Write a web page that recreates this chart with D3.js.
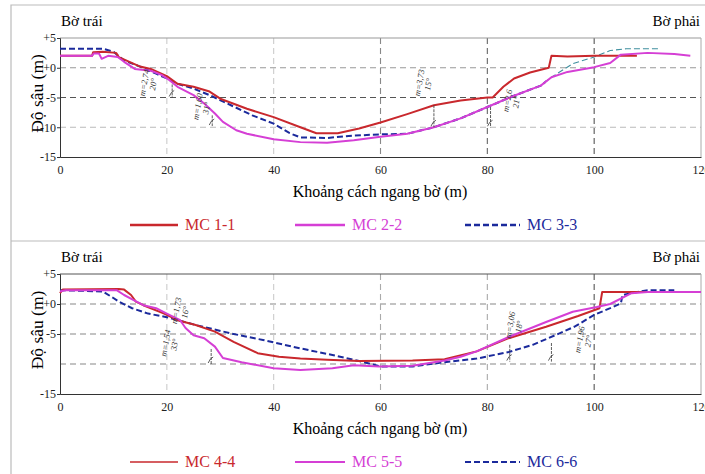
<!DOCTYPE html>
<html>
<head>
<meta charset="utf-8">
<script src="https://cdn.jsdelivr.net/npm/d3@7"></script>
<style>
  body { margin: 0; background: #fff; }
  svg text { font-family: "Liberation Serif", "Times New Roman", Times, "DejaVu Serif", serif; }
</style>
</head>
<body>
<svg id="chart"></svg>
<script>
// x: khoảng cách ngang bờ (m), y: độ sâu (m)
const mc11 = [[0,2.0],[6,2.0],[6.2,2.6],[8,2.7],[10.5,2.5],[11,1.8],[13,1.0],[15,0.2],[17,-0.2],[20,-1.4],[22,-2.7],[25,-3.2],[28,-4.0],[30,-5.2],[35,-6.9],[40,-8.3],[45,-10.0],[48,-11.0],[52,-11.0],[56,-10.2],[60,-9.2],[65,-7.8],[70,-6.3],[75,-5.5],[80,-5.0],[81,-5.0],[83,-3.2],[85,-1.8],[88,-0.8],[91.5,0.0],[92,2.0],[95,1.9],[100,2.0],[108,2.0]];
const mc22 = [[0,2.0],[6,2.0],[6.3,2.4],[7.3,2.4],[7.8,1.5],[9,2.0],[10.8,1.8],[12,1.0],[14,-0.2],[17,-0.5],[19,-1.2],[20.5,-2.1],[22,-3.2],[25,-4.6],[27,-6.0],[29,-7.7],[30.5,-9.1],[33,-10.5],[35,-11.1],[40,-12.0],[45,-12.5],[50,-12.6],[55,-12.2],[60,-11.6],[65,-11.1],[70,-10.0],[75,-8.5],[80,-6.6],[85,-4.7],[90,-3.0],[92,-1.6],[95,-0.7],[100,0.1],[103,0.8],[105,2.2],[110,2.5],[115,2.3],[118,2.0]];
const mc33 = [[0,3.2],[8,3.2],[10,2.7],[12,1.2],[15,0.2],[18,-1.0],[20,-1.8],[22,-2.7],[25,-3.5],[28,-4.6],[32,-6.3],[36,-8.0],[40,-9.4],[43,-11.0],[45,-11.7],[50,-11.8],[55,-11.4],[60,-11.2],[65,-11.1],[70,-10.0],[75,-8.5],[80,-6.6],[85,-4.7],[90,-3.0],[92,-1.6],[96,0.7],[100,1.8],[103,2.9],[106,3.2],[112,3.2]];

const mc44 = [[0,1.8],[0.5,2.4],[11,2.5],[12,2.4],[13.3,1.5],[14.2,0.4],[15.6,-0.2],[19.5,-1.6],[22,-2.7],[25.4,-3.5],[29,-4.6],[32.5,-6.3],[37,-8.2],[41,-8.8],[45,-9.1],[50,-9.3],[56,-9.5],[66,-9.4],[72,-9.2],[78,-7.9],[84,-5.7],[91,-3.8],[97,-2.0],[101,-0.7],[101.5,2.0],[120,2.0]];
const mc55 = [[0,2.1],[1,2.3],[10.6,2.3],[12,1.5],[13.7,0.7],[15.6,-0.2],[18,-0.7],[20,-1.6],[22.5,-2.7],[23.5,-4.0],[25,-5.2],[27,-5.7],[29,-7.1],[30.5,-9.0],[34,-9.7],[40,-10.7],[45,-11.0],[51,-10.7],[55,-10.2],[59.7,-10.4],[66,-10.3],[72,-9.4],[75,-8.8],[78,-7.9],[84,-5.5],[91,-3.0],[96,-1.3],[100.5,-0.5],[103,0.0],[107,1.8],[110,2.0],[120,2.0]];
const mc66 = [[0,2.3],[8,2.1],[10,1.0],[11,0.4],[13.5,-0.7],[16.5,-1.6],[20,-2.2],[25.4,-3.5],[32,-4.9],[38,-6.0],[45,-7.4],[51,-8.5],[56,-9.5],[60,-10.4],[66,-10.4],[72,-9.7],[78,-9.1],[84,-8.0],[88.5,-6.8],[93.5,-4.9],[96.5,-3.7],[100,-1.8],[103,-0.7],[105,0.1],[105.3,1.5],[107,1.8],[110,2.3],[115,2.3]];

const xTicks = [0, 20, 40, 60, 80, 100, 120];
const yTicksTop = [5, 0, -5, -10, -15];
const yTickLabelsTop = ["+5", "+0", "-5", "-10", "-15"];
const yTicksBottom = [5, 0, -5, -15];
const yTickLabelsBottom = ["+5", "+0", "-5", "-15"];
const namesTop = ["MC 1-1", "MC 2-2", "MC 3-3"];
const namesBottom = ["MC 4-4", "MC 5-5", "MC 6-6"];

// nhãn hệ số mái dốc: [x, y, dòng 1, dòng 2]
const slopeTop = [[16.3, -2.6, "m=2,74", "20°"], [26.3, -6.6, "m=1,60", "31°"], [67.8, -2.6, "m=3,73", "15°"], [84.3, -5.6, "m=2,6", "21°"]];
const slopeBottom = [[22.3, -1.2, "m=1,73", "16°"], [20.3, -6.6, "m=1,54", "33°"], [84.8, -3.6, "m=3,06", "18°"], [97.8, -6.0, "m=1,96", "27°"]];
// vạch đứng: [x, y trên, y dưới]
const markTop = [[21, -2.8, -5.0], [28.5, -8.0, -9.8], [70, -6.3, -10], [80.6, -6.6, -10]];
const markBottom = [[28.3, -7.5, -10], [84.2, -6.8, -9.6], [92, -6.5, -9.6]];

const W = 705, H = 474;
const colors = ["#c9282d", "#d53fd5", "#1b2a9c"];
const serif = "Liberation Serif, Times New Roman, serif";

const svg = d3.select("#chart").attr("width", W).attr("height", H)
  .attr("font-family", serif);

// khung ngoài
svg.append("path")
  .attr("d", "M11,474 V5 H705 M11,241 H705")
  .attr("fill", "none").attr("stroke", "#bbb").attr("stroke-width", 1.2);

let clipId = 0;

function drawPanel(cfg) {
  const x = d3.scaleLinear().domain([0, 120]).range([60, 701]);
  const y = d3.scaleLinear().domain([-15, 5]).range([cfg.bottom, cfg.top]);
  const g = svg.append("g");

  // lưới
  g.selectAll(".hg").data([0, -5, -10]).enter().append("line")
    .attr("x1", x(0)).attr("x2", x(120))
    .attr("y1", d => y(d)).attr("y2", d => y(d))
    .attr("stroke", (d, i) => cfg.hColors[i]).attr("stroke-width", 1.2)
    .attr("stroke-dasharray", "6,4");
  g.selectAll(".vg").data([20, 40, 60, 80, 100]).enter().append("line")
    .attr("x1", d => x(d)).attr("x2", d => x(d))
    .attr("y1", y(5)).attr("y2", y(-15))
    .attr("stroke", (d, i) => cfg.vColors[i]).attr("stroke-width", 1.1)
    .attr("stroke-dasharray", "6,4");

  // khung
  g.append("line").attr("x1", x(0)).attr("x2", x(120)).attr("y1", y(5)).attr("y2", y(5))
    .attr("stroke", cfg.topColor);
  g.append("line").attr("x1", x(120)).attr("x2", x(120)).attr("y1", y(5)).attr("y2", y(-15))
    .attr("stroke", "#aaa");

  const xAxis = d3.axisBottom(x).tickValues(xTicks).tickSize(0).tickPadding(8);
  const xg = g.append("g").attr("transform", "translate(0," + y(-15) + ")").call(xAxis)
    .attr("font-family", serif);
  xg.select(".domain").attr("stroke", "#333");
  xg.selectAll("text").attr("font-size", 12).attr("fill", "#222");

  const yAxis = d3.axisLeft(y).tickValues(cfg.yTicks).tickSize(3).tickPadding(1)
    .tickFormat((d, i) => cfg.yLabels[i]);
  const yg = g.append("g").attr("transform", "translate(" + x(0) + ",0)").call(yAxis)
    .attr("font-family", serif);
  yg.select(".domain").attr("stroke", "#333");
  yg.selectAll(".tick line").attr("stroke", "#333");
  yg.selectAll("text").attr("font-size", 12).attr("fill", "#222");

  // đường mặt cắt
  const line = d3.line().x(d => x(d[0])).y(d => y(d[1]));
  const split = cfg.splitAt != null ? x(cfg.splitAt) : null;
  if (split != null) {
    const a = "clipA" + (clipId++), b = "clipB" + (clipId++);
    const defs = g.append("defs");
    defs.append("clipPath").attr("id", a).append("rect")
      .attr("x", 0).attr("y", 0).attr("width", split).attr("height", H);
    defs.append("clipPath").attr("id", b).append("rect")
      .attr("x", split).attr("y", 0).attr("width", W - split).attr("height", H);
    g.append("path").datum(cfg.series[2]).attr("clip-path", "url(#" + a + ")")
      .attr("fill", "none").attr("stroke", colors[2]).attr("stroke-width", 2)
      .attr("stroke-dasharray", "6,3").attr("d", line);
    g.append("path").datum(cfg.series[2]).attr("clip-path", "url(#" + b + ")")
      .attr("fill", "none").attr("stroke", "#3f8f9f").attr("stroke-width", 1.1)
      .attr("stroke-dasharray", "6,3").attr("d", line);
  } else {
    g.append("path").datum(cfg.series[2])
      .attr("fill", "none").attr("stroke", colors[2]).attr("stroke-width", 2)
      .attr("stroke-dasharray", "6,3").attr("d", line);
  }
  [0, 1].forEach(i => {
    g.append("path").datum(cfg.series[i])
      .attr("fill", "none").attr("stroke", colors[i])
      .attr("stroke-width", 2)
      .attr("stroke-linejoin", "round")
      .attr("d", line);
  });

  // vạch và nhãn mái dốc
  g.selectAll(".mk").data(cfg.marks).enter().append("line")
    .attr("x1", d => x(d[0])).attr("x2", d => x(d[0]))
    .attr("y1", d => y(d[1])).attr("y2", d => y(d[2]))
    .attr("stroke", "#333").attr("stroke-width", 0.8).attr("stroke-dasharray", "3,1");
  g.selectAll(".mk2").data(cfg.marks).enter().append("path")
    .attr("d", d => {
      const cx = x(d[0]), cy = y(d[2]);
      return "M" + (cx - 3) + "," + (cy - 1) + " Q" + (cx - 1) + "," + (cy - 6) + " " + (cx + 2) + "," + (cy - 7);
    })
    .attr("fill", "none").attr("stroke", "#333").attr("stroke-width", 0.8);

  const sl = g.selectAll(".sl").data(cfg.slopes).enter().append("text")
    .attr("transform", d => "translate(" + x(d[0]) + "," + y(d[1]) + ") rotate(-80)")
    .attr("text-anchor", "middle").attr("font-size", 8.5).attr("font-style", "italic").attr("fill", "#333");
  sl.append("tspan").attr("x", 0).attr("dy", 0).text(d => d[2]);
  sl.append("tspan").attr("x", 0).attr("dy", 9).text(d => d[3]);

  // chữ
  g.append("text").attr("x", 61).attr("y", cfg.top - 12).attr("font-size", 15).text("Bờ trái");
  g.append("text").attr("x", 700).attr("y", cfg.top - 12).attr("font-size", 15)
    .attr("text-anchor", "end").text("Bờ phải");
  g.append("text")
    .attr("transform", "translate(43," + ((cfg.top + cfg.bottom) / 2 - 4) + ") rotate(-90)")
    .attr("text-anchor", "middle").attr("font-size", 17.5).text("Độ sâu (m)");
  g.append("text").attr("x", 380).attr("y", cfg.bottom + 40).attr("text-anchor", "middle")
    .attr("font-size", 16).text("Khoảng cách ngang bờ (m)");

  // chú giải
  const lx = [[130, 178], [295, 345], [465, 520]];
  const ly = cfg.bottom + 68;
  cfg.names.forEach((n, i) => {
    g.append("line").attr("x1", lx[i][0]).attr("x2", lx[i][1]).attr("y1", ly).attr("y2", ly)
      .attr("stroke", colors[i]).attr("stroke-width", cfg.legendW[i])
      .attr("stroke-dasharray", i === 2 ? "6,3" : null);
    g.append("text").attr("x", lx[i][1] + 7).attr("y", ly + 5).attr("font-size", 16)
      .attr("fill", colors[i]).text(n);
  });
}

drawPanel({
  top: 38, bottom: 157,
  series: [mc11, mc22, mc33], names: namesTop,
  yTicks: yTicksTop, yLabels: yTickLabelsTop,
  slopes: slopeTop, marks: markTop, splitAt: 91,
  hColors: ["#999", "#555", "#bbb"], vColors: ["#ccc", "#ccc", "#888", "#666", "#555"],
  topColor: "#999", legendW: [2.5, 2.5, 2.5]
});
drawPanel({
  top: 274, bottom: 394,
  series: [mc44, mc55, mc66], names: namesBottom,
  yTicks: yTicksBottom, yLabels: yTickLabelsBottom,
  slopes: slopeBottom, marks: markBottom, splitAt: null,
  hColors: ["#888", "#888", "#888"], vColors: ["#ccc", "#ccc", "#aaa", "#aaa", "#555"],
  topColor: "#555", legendW: [1.3, 2, 2]
});
</script>
</body>
</html>
